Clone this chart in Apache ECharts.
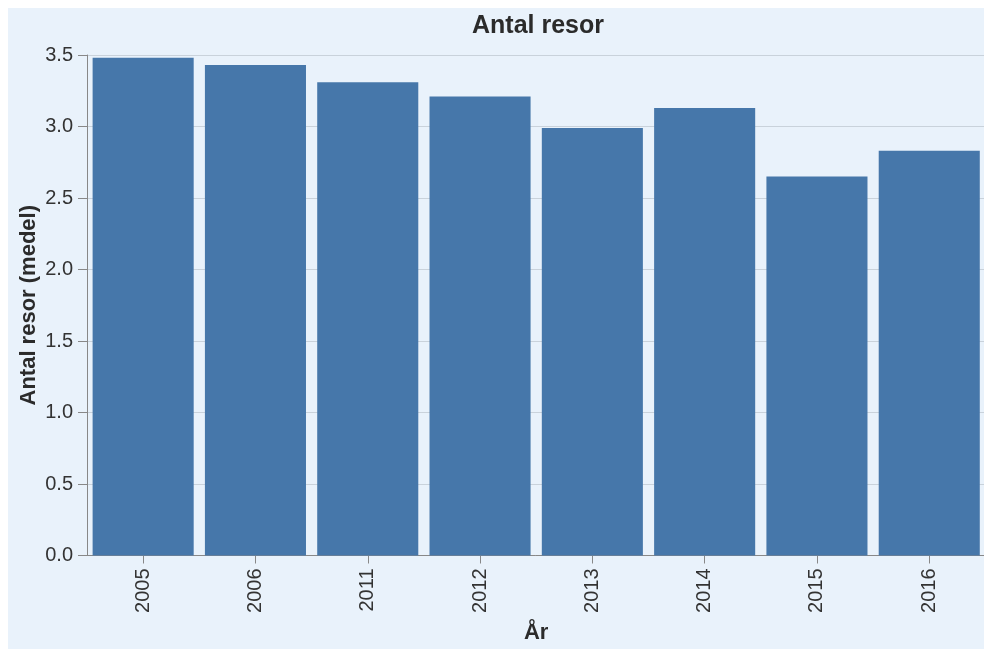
<!DOCTYPE html>
<html>
<head>
<meta charset="utf-8">
<script src="https://cdn.jsdelivr.net/npm/echarts@6/dist/echarts.min.js"></script>
<style>
html,body{margin:0;padding:0;background:#fff;overflow:hidden;}
#chart{position:absolute;left:8px;top:8px;width:976px;height:641px;background:#e9f2fb;}
</style>
</head>
<body>
<div id="chart"></div>
<script>
const categories = ['2005','2006','2011','2012','2013','2014','2015','2016'];
const values = [3.48, 3.43, 3.31, 3.21, 2.99, 3.13, 2.65, 2.83];
const yTicks = [0, 0.5, 1.0, 1.5, 2.0, 2.5, 3.0, 3.5];

const chart = echarts.init(document.getElementById('chart'), null, {renderer:'canvas'});
const font = 'Liberation Sans, Arial, sans-serif';
chart.setOption({
  backgroundColor: '#e9f2fb',
  animation: false,
  title: {
    text: 'Antal resor',
    left: 525,
    top: 1,
    textAlign: 'center',
    textStyle: {fontFamily: font, fontSize: 25, fontWeight: 'bold', color: '#2b2b2b'}
  },
  grid: {left: 79, right: -1.4, top: 47, bottom: 93.5, containLabel: false, outerBoundsMode: 'none'},
  xAxis: {
    type: 'category',
    data: categories,
    name: 'År',
    nameLocation: 'middle',
    nameGap: 66,
    nameTextStyle: {fontFamily: font, fontSize: 22, fontWeight: 'bold', color: '#2b2b2b'},
    axisLine: {show: true, lineStyle: {color: '#888', width: 1}},
    axisTick: {show: true, alignWithLabel: true, length: 8, lineStyle: {color: '#888'}},
    axisLabel: {rotate: 90, margin: 13, fontFamily: font, fontSize: 20, color: '#333'},
    splitLine: {show: false}
  },
  yAxis: {
    type: 'value',
    min: 0,
    max: yTicks[yTicks.length - 1],
    interval: 0.5,
    name: 'Antal resor (medel)',
    nameLocation: 'middle',
    nameRotate: 90,
    nameGap: 47,
    nameMoveOverlap: false,
    nameTextStyle: {fontFamily: font, fontSize: 22, fontWeight: 'bold', color: '#2b2b2b'},
    axisLine: {show: true, lineStyle: {color: '#888', width: 1}},
    axisTick: {show: true, length: 9, lineStyle: {color: '#888'}},
    axisLabel: {margin: 14, fontFamily: font, fontSize: 20, color: '#333',
      formatter: v => v.toFixed(1)},
    splitLine: {show: true, lineStyle: {color: '#c9d2db', width: 1}}
  },
  series: [{
    type: 'bar',
    data: values,
    barCategoryGap: '10%',
    itemStyle: {color: '#4677aa'}
  }]
});
</script>
</body>
</html>
